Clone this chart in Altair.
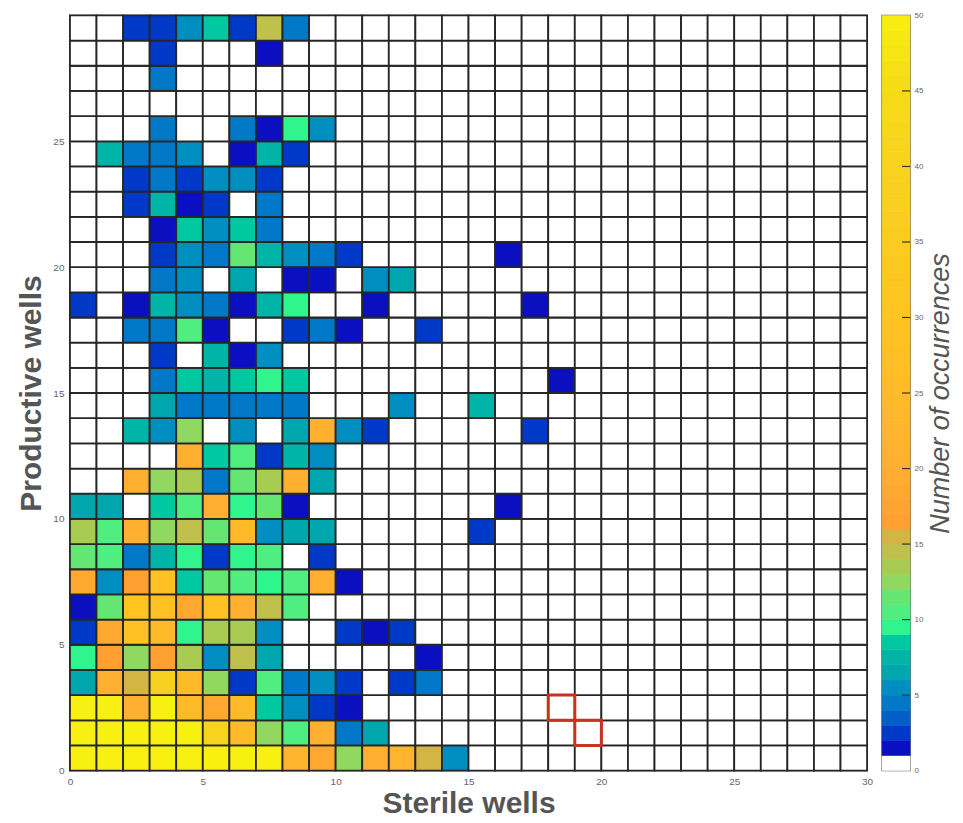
import altair as alt
import pandas as pd

# ---- cell counts, one list per "Productive wells" row, starting at Sterile wells = 0
row_0 = [50, 50, 50, 50, 50, 50, 50, 50, 22, 18, 12, 20, 22, 15, 5]
row_1 = [50, 50, 50, 50, 50, 40, 24, 12, 10, 20, 4, 6]
row_2 = [50, 50, 20, 50, 24, 18, 24, 8, 5, 2, 1]
row_3 = [6, 20, 15, 38, 24, 12, 2, 10, 4, 5, 2, 0, 2, 4]
row_4 = [9, 16, 12, 16, 13, 5, 14, 6, 0, 0, 0, 0, 0, 1]
row_5 = [2, 18, 28, 24, 9, 13, 13, 5, 0, 0, 2, 1, 2]
row_6 = [1, 11, 30, 28, 18, 28, 20, 14, 10]
row_7 = [18, 5, 16, 28, 8, 11, 10, 9, 10, 20, 1]
row_8 = [11, 10, 4, 7, 9, 2, 9, 10, 0, 2]
row_9 = [13, 10, 20, 12, 14, 11, 24, 5, 6, 6, 0, 0, 0, 0, 0, 2]
row_10 = [6, 6, 0, 8, 10, 20, 9, 11, 1, 0, 0, 0, 0, 0, 0, 0, 1]
row_11 = [0, 0, 20, 12, 13, 4, 11, 13, 20, 6]
row_12 = [0, 0, 0, 0, 20, 8, 10, 2, 7, 5]
row_13 = [0, 0, 7, 5, 12, 0, 5, 0, 6, 20, 5, 2, 0, 0, 0, 0, 0, 2]
row_14 = [0, 0, 0, 6, 4, 4, 4, 4, 4, 0, 0, 0, 5, 0, 0, 7]
row_15 = [0, 0, 0, 4, 8, 7, 8, 9, 8, 0, 0, 0, 0, 0, 0, 0, 0, 0, 1]
row_16 = [0, 0, 0, 2, 0, 7, 1, 5]
row_17 = [0, 0, 4, 4, 10, 1, 0, 0, 2, 4, 1, 0, 0, 2]
row_18 = [2, 0, 1, 7, 5, 4, 1, 7, 9, 0, 0, 1, 0, 0, 0, 0, 0, 1]
row_19 = [0, 0, 0, 4, 5, 0, 6, 0, 1, 1, 0, 5, 6]
row_20 = [0, 0, 0, 2, 5, 4, 11, 7, 5, 4, 2, 0, 0, 0, 0, 0, 1]
row_21 = [0, 0, 0, 1, 8, 5, 8, 4]
row_22 = [0, 0, 2, 7, 1, 2, 0, 4]
row_23 = [0, 0, 2, 4, 2, 5, 5, 2]
row_24 = [0, 7, 4, 4, 5, 0, 1, 7, 2]
row_25 = [0, 0, 0, 4, 0, 0, 4, 1, 9, 5]
row_26 = []
row_27 = [0, 0, 0, 4]
row_28 = [0, 0, 0, 2, 0, 0, 0, 1]
row_29 = [0, 0, 2, 2, 5, 8, 2, 14, 4]

rows = [row_0, row_1, row_2, row_3, row_4, row_5, row_6, row_7, row_8, row_9,
        row_10, row_11, row_12, row_13, row_14, row_15, row_16, row_17, row_18, row_19,
        row_20, row_21, row_22, row_23, row_24, row_25, row_26, row_27, row_28, row_29]

N_COLS = 30

# highlighted (red outlined) cells
highlight_sterile = [18, 19]
highlight_productive = [2, 1]

# tick labels
x_ticks = [0, 5, 10, 15, 20, 25, 30]
y_ticks = [0, 5, 10, 15, 20, 25]
cbar_ticks = [0, 5, 10, 15, 20, 25, 30, 35, 40, 45, 50]
cbar_levels = list(range(50))

# colour map (value -> colour)
color_domain = [0, 1, 2, 3, 4, 5, 6, 7, 8, 9, 10, 11, 12, 13, 14, 15, 16, 20, 25, 30, 38, 45, 50]
color_range = ["#ffffff", "#0a10c0", "#0038c8", "#0060c8", "#0078c8", "#008ec0", "#00a6ae",
               "#00b4a8", "#00c8a0", "#30f48c", "#50ee80", "#64e672", "#90d860", "#a8cc52",
               "#c0c04c", "#d4b442", "#ffa030", "#ffb030", "#ffbc28", "#ffc420", "#f8d020",
               "#f6dc16", "#f8f010"]

records = []
for j, row in enumerate(rows):
    for i in range(N_COLS):
        v = row[i] if i < len(row) else 0
        records.append({"sterile": i, "sterile_end": i + 1,
                        "productive": j, "productive_end": j + 1, "count": v})
cells_df = pd.DataFrame(records)

hl_df = pd.DataFrame({"sterile": highlight_sterile,
                      "sterile_end": [s + 1 for s in highlight_sterile],
                      "productive": highlight_productive,
                      "productive_end": [p + 1 for p in highlight_productive]})

cb_df = pd.DataFrame({"level": cbar_levels, "level_end": [l + 1 for l in cbar_levels]})
cb_tick_df = pd.DataFrame({"level": cbar_ticks[1:-1]})

color_scale = alt.Scale(domain=color_domain, range=color_range, type="linear", interpolate="rgb")
x_scale = alt.Scale(domain=[0, 30], nice=False, zero=False)
y_scale = alt.Scale(domain=[0, 30], nice=False, zero=False)

LABEL_COLOR = "#666666"
TITLE_COLOR = "#555555"

x_axis = alt.Axis(values=x_ticks, title="Sterile wells", grid=False, ticks=False, domain=False,
                  labelFontSize=10, labelColor=LABEL_COLOR, labelPadding=6, labelFlush=False,
                  titleFontSize=30, titleFontWeight="bold", titleColor=TITLE_COLOR, titlePadding=2)
y_axis = alt.Axis(values=y_ticks, title="Productive wells", grid=False, ticks=False, domain=False,
                  labelFontSize=10, labelColor=LABEL_COLOR, labelPadding=6, labelFlush=False,
                  titleFontSize=30, titleFontWeight="bold", titleColor=TITLE_COLOR, titlePadding=6)

cells = alt.Chart(cells_df).mark_rect(stroke="#262626", strokeWidth=1.8).encode(
    x=alt.X("sterile:Q", scale=x_scale, axis=x_axis),
    x2="sterile_end:Q",
    y=alt.Y("productive:Q", scale=y_scale, axis=y_axis),
    y2="productive_end:Q",
    color=alt.Color("count:Q", scale=color_scale, legend=None),
)

highlight = alt.Chart(hl_df).mark_rect(filled=False, stroke="#c8321e", strokeWidth=3).encode(
    x=alt.X("sterile:Q", scale=x_scale, axis=x_axis),
    x2="sterile_end:Q",
    y=alt.Y("productive:Q", scale=y_scale, axis=y_axis),
    y2="productive_end:Q",
)

main = alt.layer(cells, highlight).properties(width=798, height=756)

cb_axis = alt.Axis(orient="right", values=cbar_ticks, title="Number of occurrences", grid=False,
                   ticks=False, domain=False, labelFontSize=8, labelColor=LABEL_COLOR,
                   labelPadding=4, labelFlush=False, titleFontSize=27, titleFontWeight="normal",
                   titleFontStyle="italic", titleColor=TITLE_COLOR, titleAngle=270,
                   titleBaseline="top", titlePadding=5)

cb_y = alt.Scale(domain=[0, 50], nice=False, zero=False)

cbar_rects = alt.Chart(cb_df).mark_rect(strokeWidth=0.6).encode(
    y=alt.Y("level:Q", scale=cb_y, axis=cb_axis),
    y2="level_end:Q",
    x=alt.value(0),
    x2=alt.value(28),
    color=alt.Color("level:Q", scale=color_scale, legend=None),
    stroke=alt.Stroke("level:Q", scale=color_scale, legend=None),
)

cbar_ticks_layer = alt.Chart(cb_tick_df).mark_rule(color="#333333", strokeWidth=1.2).encode(
    y=alt.Y("level:Q", scale=cb_y, axis=cb_axis),
    x=alt.value(20),
    x2=alt.value(28),
)

colorbar = alt.layer(cbar_rects, cbar_ticks_layer).properties(width=28, height=756)

chart = alt.hconcat(main, colorbar, spacing=6).properties(
    padding={"left": 8, "top": 2, "right": 0, "bottom": 0}
).configure(font="Liberation Sans").configure_view(stroke="#555555", strokeWidth=1.5)

chart.save("out.html", embed_options={"renderer": "svg", "actions": False})
